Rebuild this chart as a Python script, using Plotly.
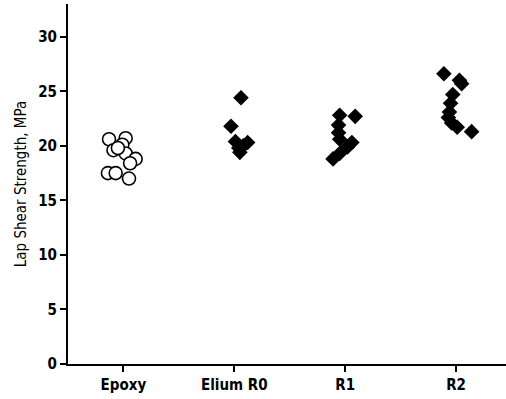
import plotly.graph_objects as go

categories = ["Epoxy", "Elium R0", "R1", "R2"]

epoxy_dx = [-0.13, 0.02, -0.09, -0.01, 0.02, 0.11, 0.06, -0.14, -0.07, 0.05, -0.05]
epoxy_y = [20.6, 20.7, 19.6, 20.1, 19.3, 18.8, 18.4, 17.5, 17.5, 17.0, 19.8]

r0_dx = [0.06, -0.03, 0.01, 0.12, 0.04, 0.05, 0.08]
r0_y = [24.4, 21.8, 20.4, 20.3, 19.8, 19.4, 20.0]

r1_dx = [-0.05, 0.09, -0.06, -0.06, -0.05, 0.06, 0.02, -0.05, -0.11]
r1_y = [22.8, 22.7, 21.9, 21.2, 20.6, 20.3, 19.9, 19.3, 18.8]

r2_dx = [-0.11, 0.03, 0.05, -0.03, -0.05, -0.06, -0.07, -0.04, 0.01, 0.14]
r2_y = [26.6, 26.0, 25.7, 24.7, 23.9, 23.1, 22.6, 22.1, 21.7, 21.3]

yticks = [0, 5, 10, 15, 20, 25, 30]

fig = go.Figure()
fig.add_trace(go.Scatter(
    x=[0 + d for d in epoxy_dx], y=epoxy_y, mode="markers",
    marker=dict(symbol="circle", size=13, color="white",
                line=dict(color="black", width=1.6)),
    showlegend=False))
for i, (dx, yy) in enumerate([(r0_dx, r0_y), (r1_dx, r1_y), (r2_dx, r2_y)], start=1):
    fig.add_trace(go.Scatter(
        x=[i + d for d in dx], y=yy, mode="markers",
        marker=dict(symbol="diamond", size=12, color="black",
                    line=dict(color="black", width=0)),
        showlegend=False))

font_family = "DejaVu Sans Condensed, Liberation Sans Narrow, Liberation Sans, Arial"
fig.update_layout(
    width=506, height=399,
    margin=dict(l=68, r=0, t=4, b=35),
    paper_bgcolor="white", plot_bgcolor="white",
    font=dict(family=font_family, color="black", size=13),
    xaxis=dict(range=[-0.5, 3.45], tickvals=[0, 1, 2, 3], ticktext=[f"<b>{c}</b>" for c in categories],
               showline=True, linecolor="black", linewidth=2, automargin=False,
               ticks="outside", ticklen=6, tickwidth=2, tickcolor="black",
               showgrid=False, zeroline=False, tickfont=dict(size=15)),
    yaxis=dict(range=[0, 33], tickvals=yticks,
               ticktext=[f"<b>{v}</b>" for v in yticks],
               showline=True, linecolor="black", linewidth=2, automargin=False,
               ticks="outside", ticklen=6, tickwidth=2, tickcolor="black",
               showgrid=False, zeroline=False, tickfont=dict(size=15),
               title=dict(text="Lap Shear Strength, MPa", font=dict(size=15), standoff=8)),
)

fig.write_html("out.html", config={"displayModeBar": False},
               post_script="document.body.style.margin='0';")
